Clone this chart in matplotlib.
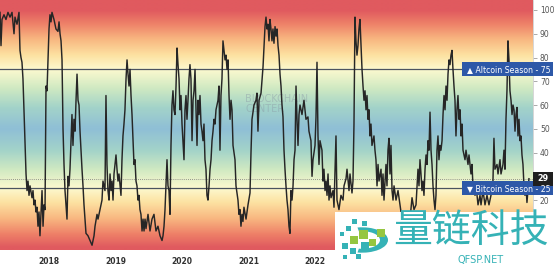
import numpy as np
import matplotlib
matplotlib.use("Agg")
import matplotlib.pyplot as plt
from matplotlib.colors import LinearSegmentedColormap
from matplotlib.patches import Rectangle, Wedge
from matplotlib.transforms import blended_transform_factory

# Altcoin season index (decimal year, index value)
years = [
    2017.258, 2017.273, 2017.288, 2017.318, 2017.348, 2017.378, 2017.409, 2017.439, 2017.469, 2017.484,
    2017.514, 2017.544, 2017.559, 2017.574, 2017.589, 2017.604, 2017.619, 2017.635, 2017.650, 2017.665,
    2017.680, 2017.695, 2017.710, 2017.740, 2017.755, 2017.770, 2017.785, 2017.800, 2017.815, 2017.830,
    2017.845, 2017.860, 2017.875, 2017.891, 2017.906, 2017.921, 2017.936, 2017.951, 2017.966, 2017.981,
    2017.996, 2018.011, 2018.026, 2018.041, 2018.071, 2018.086, 2018.101, 2018.131, 2018.147, 2018.162,
    2018.177, 2018.192, 2018.207, 2018.222, 2018.237, 2018.252, 2018.267, 2018.282, 2018.297, 2018.312,
    2018.327, 2018.342, 2018.357, 2018.372, 2018.388, 2018.403, 2018.418, 2018.433, 2018.448, 2018.463,
    2018.478, 2018.493, 2018.508, 2018.523, 2018.538, 2018.553, 2018.583, 2018.613, 2018.644, 2018.674,
    2018.689, 2018.719, 2018.734, 2018.764, 2018.794, 2018.809, 2018.839, 2018.854, 2018.869, 2018.884,
    2018.900, 2018.915, 2018.930, 2018.945, 2018.960, 2018.975, 2018.990, 2019.005, 2019.020, 2019.035,
    2019.050, 2019.080, 2019.095, 2019.110, 2019.125, 2019.140, 2019.156, 2019.171, 2019.186, 2019.201,
    2019.216, 2019.231, 2019.246, 2019.261, 2019.276, 2019.291, 2019.306, 2019.321, 2019.336, 2019.351,
    2019.366, 2019.381, 2019.397, 2019.412, 2019.427, 2019.442, 2019.457, 2019.487, 2019.517, 2019.547,
    2019.577, 2019.607, 2019.637, 2019.668, 2019.698, 2019.713, 2019.728, 2019.743, 2019.758, 2019.773,
    2019.788, 2019.803, 2019.818, 2019.833, 2019.848, 2019.863, 2019.878, 2019.893, 2019.909, 2019.924,
    2019.939, 2019.954, 2019.969, 2019.984, 2019.999, 2020.029, 2020.044, 2020.059, 2020.074, 2020.089,
    2020.104, 2020.119, 2020.134, 2020.150, 2020.165, 2020.180, 2020.195, 2020.210, 2020.225, 2020.240,
    2020.255, 2020.270, 2020.285, 2020.300, 2020.315, 2020.330, 2020.345, 2020.360, 2020.375, 2020.390,
    2020.406, 2020.421, 2020.436, 2020.451, 2020.466, 2020.481, 2020.496, 2020.511, 2020.526, 2020.541,
    2020.556, 2020.571, 2020.586, 2020.601, 2020.616, 2020.631, 2020.647, 2020.662, 2020.677, 2020.692,
    2020.707, 2020.722, 2020.737, 2020.752, 2020.767, 2020.797, 2020.812, 2020.842, 2020.857, 2020.872,
    2020.887, 2020.902, 2020.917, 2020.932, 2020.963, 2020.993, 2021.023, 2021.038, 2021.053, 2021.083,
    2021.113, 2021.128, 2021.143, 2021.159, 2021.189, 2021.219, 2021.249, 2021.264, 2021.279, 2021.294,
    2021.309, 2021.324, 2021.339, 2021.354, 2021.369, 2021.384, 2021.400, 2021.415, 2021.430, 2021.445,
    2021.460, 2021.475, 2021.490, 2021.505, 2021.520, 2021.535, 2021.550, 2021.565, 2021.580, 2021.595,
    2021.610, 2021.625, 2021.640, 2021.656, 2021.671, 2021.686, 2021.701, 2021.716, 2021.731, 2021.746,
    2021.761, 2021.776, 2021.806, 2021.836, 2021.866, 2021.896, 2021.911, 2021.941, 2021.957, 2021.972,
    2022.002, 2022.017, 2022.032, 2022.047, 2022.062, 2022.077, 2022.107, 2022.122, 2022.137, 2022.153,
    2022.168, 2022.183, 2022.198, 2022.213, 2022.228, 2022.243, 2022.273, 2022.288, 2022.318, 2022.333,
    2022.363, 2022.393, 2022.424, 2022.439, 2022.469, 2022.484, 2022.514, 2022.529, 2022.559, 2022.574,
    2022.589, 2022.604, 2022.619, 2022.634, 2022.649, 2022.664, 2022.679, 2022.695, 2022.710, 2022.725,
    2022.740, 2022.755, 2022.770, 2022.785, 2022.800, 2022.815, 2022.830, 2022.845, 2022.860, 2022.890,
    2022.905, 2022.920, 2022.936, 2022.951, 2022.966, 2022.996, 2023.011, 2023.026, 2023.041, 2023.071,
    2023.086, 2023.101, 2023.116, 2023.131, 2023.146, 2023.162, 2023.177, 2023.192, 2023.222, 2023.252,
    2023.282, 2023.312, 2023.357, 2023.403, 2023.433, 2023.463, 2023.493, 2023.523, 2023.553, 2023.568,
    2023.583, 2023.598, 2023.613, 2023.628, 2023.643, 2023.659, 2023.674, 2023.689, 2023.704, 2023.719,
    2023.734, 2023.749, 2023.764, 2023.779, 2023.794, 2023.809, 2023.824, 2023.839, 2023.854, 2023.869,
    2023.884, 2023.899, 2023.915, 2023.930, 2023.945, 2023.960, 2023.975, 2023.990, 2024.005, 2024.020,
    2024.035, 2024.050, 2024.065, 2024.080, 2024.095, 2024.110, 2024.125, 2024.140, 2024.155, 2024.171,
    2024.186, 2024.201, 2024.216, 2024.231, 2024.261, 2024.276, 2024.306, 2024.321, 2024.351, 2024.366,
    2024.381, 2024.412, 2024.427, 2024.457, 2024.487, 2024.502, 2024.532, 2024.562, 2024.592, 2024.622,
    2024.652, 2024.682, 2024.697, 2024.712, 2024.743, 2024.758, 2024.788, 2024.803, 2024.833, 2024.848,
    2024.863, 2024.878, 2024.893, 2024.908, 2024.923, 2024.938, 2024.954, 2024.969, 2024.984, 2024.999,
    2025.014, 2025.029, 2025.044, 2025.059, 2025.074, 2025.089, 2025.104, 2025.119, 2025.134, 2025.149,
    2025.164, 2025.179, 2025.194, 2025.209, 2025.224,
]
index = [
    99, 85, 96, 98, 96, 99, 97, 99, 90, 97,
    94, 99, 83, 80, 78, 71, 58, 45, 31, 24,
    28, 22, 26, 21, 24, 18, 20, 15, 17, 9,
    15, 5, 14, 24, 9, 18, 16, 68, 66, 79,
    92, 98, 95, 99, 96, 94, 92, 91, 95, 90,
    87, 79, 50, 35, 24, 18, 12, 30, 26, 33,
    45, 56, 43, 54, 49, 62, 73, 62, 60, 49,
    41, 33, 26, 18, 12, 6, 5, 3, 1, 5,
    9, 14, 12, 16, 20, 28, 24, 64, 35, 24,
    20, 31, 24, 28, 20, 31, 35, 39, 33, 28,
    31, 22, 37, 47, 52, 58, 71, 79, 73, 68,
    75, 64, 56, 45, 35, 37, 28, 26, 20, 22,
    16, 14, 7, 12, 7, 12, 8, 14, 7, 12,
    14, 7, 9, 5, 3, 5, 9, 16, 26, 37,
    26, 24, 14, 43, 60, 66, 58, 56, 68, 84,
    77, 71, 58, 64, 52, 37, 58, 64, 54, 62,
    71, 77, 71, 45, 62, 66, 75, 58, 43, 62,
    56, 64, 52, 49, 45, 52, 37, 33, 22, 20,
    26, 33, 37, 45, 49, 54, 52, 58, 60, 62,
    68, 41, 64, 71, 87, 83, 79, 81, 75, 79,
    64, 54, 62, 58, 43, 37, 26, 20, 14, 16,
    9, 14, 11, 17, 12, 18, 23, 40, 54, 60,
    62, 65, 49, 62, 65, 76, 93, 97, 92, 94,
    87, 96, 92, 87, 92, 86, 93, 89, 92, 85,
    81, 73, 68, 60, 55, 41, 33, 26, 20, 16,
    9, 6, 24, 20, 26, 37, 41, 68, 54, 43,
    56, 60, 56, 62, 54, 55, 49, 45, 30, 37,
    43, 55, 78, 47, 35, 45, 41, 28, 33, 24,
    28, 22, 31, 20, 26, 21, 24, 17, 47, 20,
    16, 22, 20, 26, 29, 33, 24, 31, 23, 28,
    52, 97, 87, 81, 85, 92, 96, 85, 75, 68,
    62, 66, 58, 64, 54, 58, 47, 52, 43, 47,
    41, 37, 26, 35, 28, 33, 22, 31, 20, 35,
    26, 41, 46, 31, 43, 24, 20, 26, 20, 24,
    18, 12, 9, 14, 12, 21, 16, 18, 33, 26,
    37, 31, 24, 28, 22, 33, 39, 35, 45, 41,
    57, 41, 35, 26, 20, 16, 22, 41, 47, 37,
    43, 41, 45, 56, 64, 58, 68, 62, 73, 79,
    77, 81, 83, 75, 68, 62, 47, 58, 64, 54,
    58, 47, 52, 41, 37, 41, 35, 39, 31, 35,
    26, 22, 26, 18, 22, 18, 24, 18, 22, 18,
    22, 28, 46, 33, 35, 31, 37, 31, 35, 41,
    33, 54, 66, 87, 79, 66, 62, 56, 60, 58,
    49, 56, 59, 47, 54, 45, 47, 39, 35, 26,
    22, 26, 19, 24, 29,
]

year_ticks = [2018, 2019, 2020, 2021, 2022, 2023, 2024, 2025]
# 2023-2025 sit under the logo overlay in the original
year_labels = ["2018", "2019", "2020", "2021", "2022", "", "", ""]
value_ticks = [0, 10, 20, 30, 40, 50, 60, 70, 80, 90, 100]
# 0/10 are under the logo, 30 is under the last-value tag
value_labels = ["", "", "20", "", "40", "50", "60", "70", "80", "90", "100"]
altcoin_level = 75
bitcoin_level = 25
last_value = 29

W, H = 555, 271
fig = plt.figure(figsize=(W / 100, H / 100), dpi=100)
fig.patch.set_facecolor("white")
ax = fig.add_axes([0, 21 / H, 533 / W, 250 / H])

x0, x1 = 2017.258, 2025.285
y0, y1 = -1, 104.2
ax.set_xlim(x0, x1)
ax.set_ylim(y0, y1)

# background gradient: red at the extremes, yellow near the season lines, blue at 50
bg = LinearSegmentedColormap.from_list("season", [
    (0.00, "#8fbfd6"), (0.18, "#a3d3c9"), (0.34, "#cfe9c2"), (0.50, "#fcf9cf"),
    (0.62, "#fde2a2"), (0.76, "#f8b680"), (0.89, "#ee8068"), (1.00, "#e05a5f")])
lv = np.linspace(y0, y1, 400)
dist = np.clip(np.abs(lv - 50) / 50, 0, 1)
ax.imshow(dist[:, None], cmap=bg, vmin=0, vmax=1, aspect="auto", origin="lower",
          extent=[x0, x1, y0, y1], zorder=0, interpolation="bilinear")

ax.plot(years, index, color="#262626", lw=1.05, zorder=3)
ax.axhline(altcoin_level, color="#4b5360", lw=0.9, zorder=2)
ax.axhline(bitcoin_level, color="#4b5360", lw=0.9, zorder=2)
ax.axhline(last_value, color="#777777", lw=0.6, ls=(0, (1, 1.5)), zorder=2)

for s in ["top", "left", "bottom"]:
    ax.spines[s].set_visible(False)
ax.spines["right"].set_color("#cfcfcf")
ax.spines["right"].set_linewidth(0.6)

ax.yaxis.tick_right()
ax.set_yticks(value_ticks)
ax.set_yticklabels(value_labels)
ax.tick_params(axis="y", length=3, width=0.5, color="#888888", labelsize=5.5,
               labelcolor="#555555", pad=2)
ax.set_xticks(year_ticks)
ax.set_xticklabels(year_labels)
ax.tick_params(axis="x", length=0, labelsize=5.5, labelcolor="#333333", pad=5)
for t in ax.get_xticklabels():
    t.set_fontweight("bold")

# watermark
ax.text(0.46, 0.585, "BLOCKCHAIN\nCENTER", transform=ax.transAxes, fontsize=7,
        color="#8a9aa6", alpha=0.45, ha="left", va="center", linespacing=0.95, zorder=2)

# right-hand labels
tr = blended_transform_factory(fig.transFigure, ax.transData)
box_h = 14 / 2.375
for lvl, label in [(altcoin_level, "\u25b2 Altcoin Season - 75"),
                   (bitcoin_level, "\u25bc Bitcoin Season - 25")]:
    ax.add_patch(Rectangle((462 / W, lvl - box_h / 2), 91 / W, box_h, transform=tr,
                           facecolor="#2d58a8", edgecolor="none", clip_on=False, zorder=6))
    ax.text(467 / W, lvl, label, transform=tr, fontsize=5.6, color="white",
            ha="left", va="center", zorder=7, clip_on=False)
ax.add_patch(Rectangle((533 / W, last_value - box_h / 2), 20 / W, box_h, transform=tr,
                       facecolor="#1f1f1f", edgecolor="none", clip_on=False, zorder=6))
ax.text(543 / W, last_value, str(last_value), transform=tr, fontsize=5.8, color="white",
        ha="center", va="center", zorder=7, clip_on=False, fontweight="bold")

# logo overlay (bottom right)
def fx(px):
    return px / W

def fy(py):
    return 1 - py / H

teal = "#35b2b6"
green = "#95c640"
fig.add_artist(Rectangle((fx(335), 0), fx(555) - fx(335), fy(212), transform=fig.transFigure,
                         facecolor="white", edgecolor="none", zorder=10))
fig.add_artist(Wedge((fx(362), fy(240)), 26 / W, -100, 100, width=8 / W, transform=fig.transFigure,
                     facecolor=teal, edgecolor="none", zorder=11))
squares = [(340, 232, 4, teal), (346, 226, 5, teal), (352, 219, 5, teal), (342, 243, 6, teal),
           (350, 236, 8, green), (359, 230, 9, green), (361, 242, 8, teal), (350, 248, 6, teal),
           (343, 255, 4, teal), (356, 254, 5, teal), (369, 239, 7, green), (377, 229, 8, green),
           (362, 221, 5, teal)]
for sx, sy, sz, c in squares:
    fig.add_artist(Rectangle((fx(sx), fy(sy + sz)), sz / W, sz / H, transform=fig.transFigure,
                             facecolor=c, edgecolor="none", zorder=12))
fig.text(fx(471), fy(231), "量链科技", fontsize=28, color=teal, ha="center", va="center",
         family=["Noto Sans CJK SC", "DejaVu Sans"], zorder=12)
fig.text(fx(481), fy(260), "QFSP.NET", fontsize=7, color=teal, ha="center", va="center",
         zorder=12)

fig.savefig("out.png", dpi=100, facecolor="white")
